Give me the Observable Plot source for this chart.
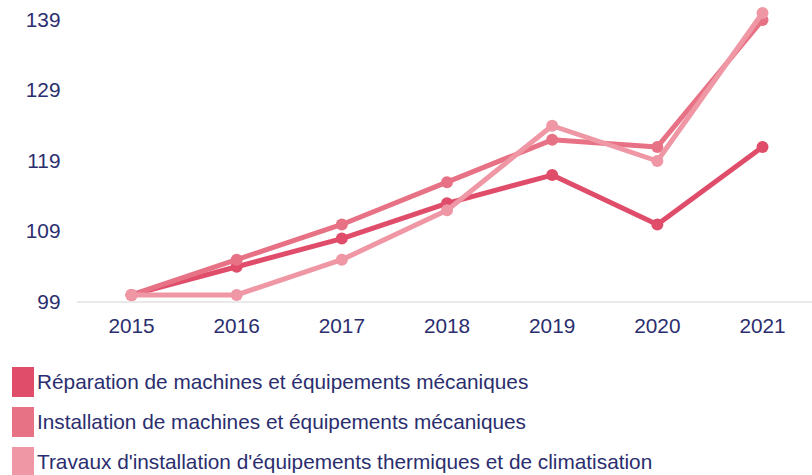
<!DOCTYPE html>
<html>
<head>
<meta charset="utf-8">
<script src="https://cdn.jsdelivr.net/npm/d3@7"></script>
<script src="https://cdn.jsdelivr.net/npm/@observablehq/plot@0.6"></script>
<style>
  body { margin: 0; background: #fff; font-family: "Liberation Sans", Arial, sans-serif; }
  #legend { margin-top: 12px; }
  .row { display: flex; align-items: center; height: 40px; }
  .sw { width: 22px; height: 30px; margin-left: 12px; margin-right: 3px; }
  .lbl { font-size: 20.8px; color: #2b2e6e; }
</style>
</head>
<body>
<div id="chart"></div>
<div id="legend"></div>
<script>
const years = [2015, 2016, 2017, 2018, 2019, 2020, 2021];
const reparation = [100, 104, 108, 113, 117, 110, 121];
const installation = [100, 105, 110, 116, 122, 121, 139];
const travaux = [100, 100, 105, 112, 124, 119, 140];
const seriesNames = [
  "Réparation de machines et équipements mécaniques",
  "Installation de machines et équipements mécaniques",
  "Travaux d'installation d'équipements thermiques et de climatisation"
];
const seriesColors = ["#e04d6b", "#e87285", "#ef97a5"];
const yTicks = [99, 109, 119, 129, 139];

const seriesValues = [reparation, installation, travaux];
const rows = [];
seriesValues.forEach((vals, i) => {
  vals.forEach((v, j) => rows.push({series: seriesNames[i], year: years[j], value: v}));
});

const marks = [Plot.ruleY([99], {stroke: "#e2e2e2", strokeWidth: 1.5})];
seriesNames.forEach((name, i) => {
  const d = rows.filter(r => r.series === name);
  marks.push(Plot.line(d, {x: "year", y: "value", stroke: seriesColors[i], strokeWidth: 5, strokeLinejoin: "round"}));
  marks.push(Plot.dot(d, {x: "year", y: "value", fill: seriesColors[i], r: 6}));
});

const chart = Plot.plot({
  width: 812,
  height: 350,
  marginLeft: 77,
  marginRight: 0,
  marginTop: 0,
  marginBottom: 48,
  style: {fontSize: "20.8px", fontFamily: "'Liberation Sans', Arial, sans-serif", color: "#2b2e6e", background: "#fff"},
  x: {type: "linear", domain: [2015, 2021], range: [131, 762], ticks: years, tickFormat: d => String(d), tickSize: 0, tickPadding: 16, label: null},
  y: {domain: [99, 139], range: [301.5, 19.5], ticks: yTicks, tickSize: 0, tickPadding: 17, label: null},
  marks
});
document.getElementById("chart").appendChild(chart);

const legend = document.getElementById("legend");
seriesNames.forEach((name, i) => {
  const row = document.createElement("div");
  row.className = "row";
  const sw = document.createElement("div");
  sw.className = "sw";
  sw.style.background = seriesColors[i];
  const lbl = document.createElement("span");
  lbl.className = "lbl";
  lbl.textContent = name;
  row.appendChild(sw);
  row.appendChild(lbl);
  legend.appendChild(row);
});
</script>
</body>
</html>
